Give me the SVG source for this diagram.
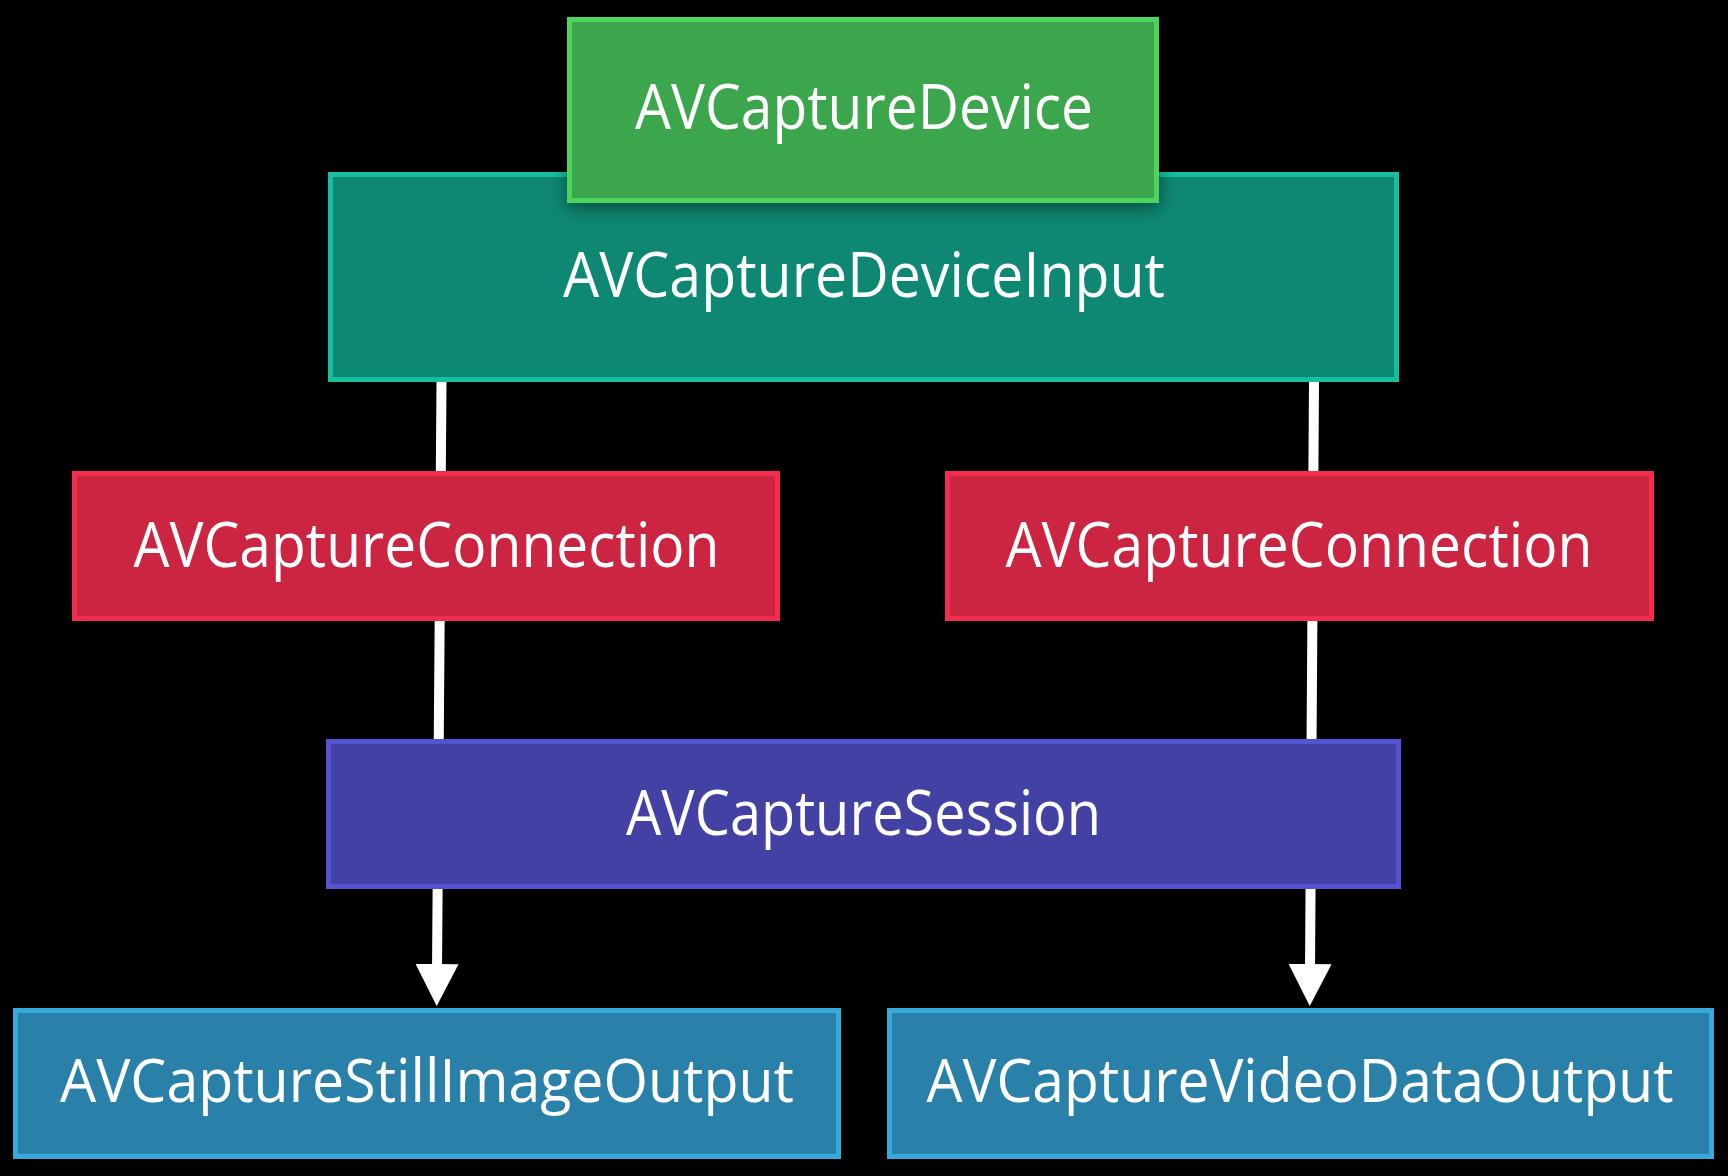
<svg xmlns="http://www.w3.org/2000/svg" width="1728" height="1176" viewBox="0 0 1728 1176">
  <style>
    .lbl { font-family: "Open Sans", "Noto Sans", "Liberation Sans", sans-serif; font-size: 63px; fill: #ffffff; text-anchor: middle; }
    .lbl.long { font-size: 60px; }
    .conn { stroke: #ffffff; stroke-width: 10; fill: none; }
    .green rect { fill: #3ba64b; stroke: #4fd35e; stroke-width: 5; }
    .teal rect { fill: #0e8873; stroke: #17bf9f; stroke-width: 5; }
    .red rect { fill: #cb2542; stroke: #f52b50; stroke-width: 5; }
    .purple rect { fill: #4441a4; stroke: #5553d4; stroke-width: 5; }
    .blue rect { fill: #2980a8; stroke: #37a9da; stroke-width: 5; }
  </style>
  <defs>
    <marker id="arrow" viewBox="0 0 42 43" markerUnits="userSpaceOnUse" markerWidth="42" markerHeight="43" refX="6" refY="21.5" orient="auto">
      <path d="M0,0 L42,21.5 L0,43 Z" fill="#ffffff"/>
    </marker>
    <filter id="shadow" x="-10%" y="-20%" width="120%" height="150%">
      <feDropShadow dx="0" dy="5" stdDeviation="9" flood-color="#000000" flood-opacity="0.45"/>
    </filter>
  </defs>
  <rect x="0" y="0" width="1728" height="1176" fill="#000000"/>

  <g id="connectors">
    <line class="conn" x1="441.5" y1="382" x2="437" y2="970" marker-end="url(#arrow)"/>
    <line class="conn" x1="1314" y1="382" x2="1310" y2="970" marker-end="url(#arrow)"/>
  </g>

  <g id="node-deviceinput" class="teal">
    <rect x="330.5" y="174.5" width="1066" height="205"/>
    <text class="lbl" x="864" y="297" textLength="602" lengthAdjust="spacingAndGlyphs">AVCaptureDeviceInput</text>
  </g>

  <g id="node-device" class="green" filter="url(#shadow)">
    <rect x="569.5" y="19.5" width="587" height="181"/>
    <text class="lbl" x="864" y="129" textLength="458" lengthAdjust="spacingAndGlyphs">AVCaptureDevice</text>
  </g>

  <g id="node-connection-left" class="red">
    <rect x="74.5" y="473.5" width="703" height="145"/>
    <text class="lbl" x="426.5" y="567" textLength="586" lengthAdjust="spacingAndGlyphs">AVCaptureConnection</text>
  </g>

  <g id="node-connection-right" class="red">
    <rect x="947.5" y="473.5" width="704" height="145"/>
    <text class="lbl" x="1299" y="567" textLength="587" lengthAdjust="spacingAndGlyphs">AVCaptureConnection</text>
  </g>

  <g id="node-session" class="purple">
    <rect x="328.5" y="741.5" width="1070" height="145"/>
    <text class="lbl" x="863.5" y="835" textLength="475" lengthAdjust="spacingAndGlyphs">AVCaptureSession</text>
  </g>

  <g id="node-stillimage" class="blue">
    <rect x="15.5" y="1010.5" width="823" height="146"/>
    <text class="lbl long" x="427" y="1102" textLength="734" lengthAdjust="spacingAndGlyphs">AVCaptureStillImageOutput</text>
  </g>

  <g id="node-videodata" class="blue">
    <rect x="889.5" y="1010.5" width="822" height="146"/>
    <text class="lbl long" x="1300" y="1102" textLength="747" lengthAdjust="spacingAndGlyphs">AVCaptureVideoDataOutput</text>
  </g>
</svg>
